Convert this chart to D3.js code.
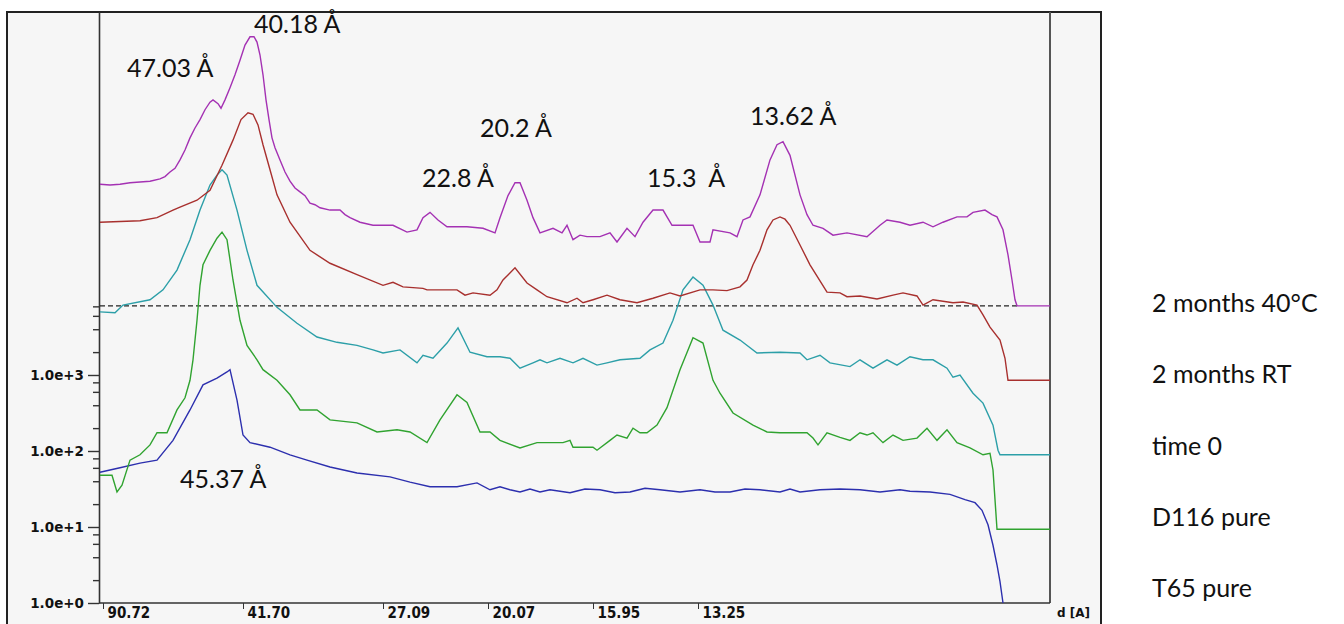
<!DOCTYPE html>
<html>
<head>
<meta charset="utf-8">
<script src="https://cdn.jsdelivr.net/npm/d3@7"></script>
<style>
body { margin: 0; background: #fff; }
svg { display: block; }
</style>
</head>
<body>
<div id="chart"></div>
<script>
// x = scan channel (0 = left edge of the plot), y = log10 of the (offset) intensity
var seriesNames = ["2 months 40°C", "2 months RT", "time 0", "D116 pure", "T65 pure"];
var seriesColors = ["#a431b3", "#a8302e", "#2c9fa8", "#30a330", "#2c2fae"];

var months40 = [[0,5.51],[10,5.50],[20,5.51],[30,5.53],[40,5.54],[50,5.55],[60,5.58],[65,5.61],[70,5.67],[75,5.72],[80,5.83],[85,5.96],[90,6.12],[95,6.25],[100,6.36],[105,6.49],[110,6.59],[113,6.62],[118,6.57],[121,6.51],[125,6.62],[130,6.78],[135,6.95],[140,7.14],[145,7.34],[150,7.45],[154,7.45],[157,7.38],[160,7.21],[163,6.95],[166,6.62],[169,6.36],[172,6.12],[175,5.99],[180,5.83],[185,5.67],[190,5.55],[195,5.46],[200,5.41],[205,5.36],[210,5.26],[215,5.24],[220,5.20],[230,5.17],[240,5.17],[245,5.11],[250,5.07],[260,5.01],[273,4.97],[293,4.97],[307,4.88],[317,4.91],[323,5.07],[330,5.14],[338,5.04],[347,4.95],[367,4.95],[383,4.93],[395,4.87],[400,5.07],[408,5.36],[415,5.53],[420,5.53],[427,5.30],[433,5.07],[440,4.87],[453,4.93],[462,4.87],[467,4.97],[473,4.78],[480,4.84],[487,4.82],[500,4.82],[510,4.87],[517,4.75],[527,4.93],[535,4.82],[543,5.01],[553,5.17],[563,5.17],[572,4.97],[593,4.97],[600,4.75],[610,4.75],[613,4.91],[630,4.87],[637,4.82],[643,5.04],[650,5.08],[660,5.37],[670,5.83],[677,6.03],[683,6.07],[690,5.89],[700,5.37],[707,5.11],[713,4.97],[723,4.93],[733,4.84],[747,4.87],[767,4.82],[780,4.97],[787,5.04],[800,5.01],[810,4.97],[823,5.01],[833,4.95],[843,5.01],[857,5.08],[867,5.08],[873,5.14],[885,5.17],[892,5.11],[897,5.08],[903,4.91],[908,4.58],[912,4.25],[915,3.99],[917,3.91],[950,3.91]];

var monthsRT = [[0,5.01],[40,5.03],[57,5.07],[73,5.17],[80,5.21],[97,5.30],[110,5.43],[122,5.76],[133,6.09],[141,6.36],[148,6.45],[153,6.43],[158,6.29],[163,6.03],[170,5.70],[177,5.37],[190,5.01],[210,4.64],[230,4.47],[257,4.32],[283,4.18],[293,4.22],[303,4.16],[323,4.14],[327,4.12],[357,4.12],[365,4.05],[373,4.08],[390,4.05],[397,4.12],[403,4.25],[415,4.41],[427,4.21],[437,4.12],[447,4.03],[467,3.95],[477,4.01],[483,3.95],[493,3.99],[507,4.05],[520,3.99],[537,3.95],[553,4.01],[570,4.08],[580,4.04],[600,4.12],[613,4.12],[627,4.11],[640,4.16],[647,4.25],[653,4.45],[660,4.64],[667,4.91],[673,5.04],[680,5.08],[685,5.05],[690,4.97],[700,4.71],[710,4.45],[727,4.09],[740,4.08],[747,4.03],[760,4.04],[777,4.00],[793,4.05],[803,4.08],[817,4.04],[823,3.92],[833,3.99],[853,3.95],[863,3.96],[877,3.92],[883,3.79],[890,3.63],[900,3.46],[905,3.22],[908,2.93],[950,2.93]];

var time0 = [[0,3.83],[15,3.82],[23,3.92],[50,3.99],[63,4.12],[77,4.38],[90,4.78],[100,5.17],[110,5.50],[117,5.63],[122,5.70],[127,5.63],[137,5.17],[147,4.64],[157,4.18],[177,3.89],[197,3.68],[217,3.50],[237,3.43],[257,3.39],[273,3.33],[283,3.29],[300,3.33],[317,3.16],[323,3.26],[333,3.22],[347,3.42],[358,3.62],[370,3.30],[387,3.24],[400,3.24],[410,3.22],[420,3.09],[433,3.16],[440,3.20],[447,3.16],[460,3.22],[473,3.16],[483,3.22],[497,3.13],[507,3.16],[520,3.20],[540,3.22],[550,3.33],[563,3.42],[573,3.72],[583,4.12],[593,4.29],[603,4.18],[613,3.92],[623,3.59],[640,3.46],[657,3.29],[680,3.30],[700,3.29],[707,3.20],[720,3.26],[730,3.16],[750,3.11],[760,3.20],[773,3.09],[787,3.20],[797,3.13],[810,3.24],[823,3.20],[833,3.20],[847,3.09],[853,2.97],[860,3.00],[873,2.76],[883,2.63],[893,2.34],[898,2.01],[900,1.95],[950,1.95]];

var d116 = [[0,1.68],[12,1.68],[17,1.46],[22,1.55],[30,1.88],[40,1.95],[50,2.08],[57,2.24],[67,2.24],[77,2.54],[85,2.70],[90,2.93],[93,3.20],[97,3.72],[100,4.18],[103,4.45],[110,4.64],[117,4.80],[122,4.88],[127,4.78],[133,4.25],[140,3.72],[147,3.39],[157,3.20],[163,3.07],[177,2.93],[190,2.74],[200,2.54],[217,2.54],[230,2.41],[257,2.37],[277,2.25],[297,2.28],[310,2.25],[327,2.11],[340,2.41],[357,2.74],[367,2.64],[380,2.25],[390,2.25],[400,2.14],[420,2.04],[437,2.11],[463,2.11],[470,2.14],[473,2.05],[493,2.05],[497,2.01],[510,2.14],[517,2.21],[527,2.17],[533,2.30],[540,2.24],[547,2.24],[557,2.34],[567,2.57],[580,3.07],[593,3.49],[603,3.42],[613,2.93],[620,2.76],[633,2.50],[653,2.34],[667,2.25],[680,2.24],[697,2.24],[707,2.24],[713,2.17],[718,2.08],[727,2.24],[740,2.18],[750,2.14],[760,2.24],[767,2.21],[773,2.24],[783,2.11],[793,2.21],[803,2.14],[817,2.17],[827,2.30],[837,2.14],[847,2.28],[857,2.11],[870,2.04],[883,1.95],[890,1.97],[893,1.75],[895,1.36],[897,0.97],[950,0.97]];

var t65 = [[0,1.72],[20,1.78],[40,1.84],[57,1.88],[73,2.14],[90,2.54],[103,2.87],[117,2.96],[127,3.04],[130,3.07],[137,2.67],[143,2.21],[150,2.11],[170,2.05],[190,1.95],[207,1.88],[230,1.79],[257,1.71],[290,1.66],[310,1.59],[330,1.53],[357,1.53],[377,1.58],[390,1.49],[400,1.53],[410,1.49],[420,1.46],[430,1.50],[440,1.46],[450,1.49],[470,1.45],[485,1.50],[500,1.49],[515,1.45],[530,1.46],[545,1.51],[560,1.49],[580,1.46],[600,1.49],[615,1.46],[630,1.46],[645,1.50],[660,1.49],[680,1.46],[690,1.50],[700,1.46],[720,1.49],[740,1.50],[760,1.49],[780,1.46],[800,1.49],[810,1.47],[830,1.46],[850,1.43],[865,1.36],[875,1.32],[882,1.22],[888,1.03],[893,0.76],[897,0.50],[900,0.28],[903,0]];

var allSeries = [months40, monthsRT, time0, d116, t65];

// x axis: channel of each tick and its d-spacing label
var xTickPos = [3, 143, 283, 388, 493, 598];
var xTickLabels = ["90.72", "41.70", "27.09", "20.07", "15.95", "13.25"];
var yMajor = [0, 1, 2, 3];

// dashed reference level (log10) and the channel where it stops
var refLevel = 3.91, refEnd = 917;

// peak labels: text, channel, log10 level of the baseline
var peakLabels = [
    {t: "40.18 Å", x: 154, v: 7.50},
    {t: "47.03 Å", x: 27, v: 6.92},
    {t: "20.2 Å", x: 380, v: 6.13},
    {t: "22.8 Å", x: 322, v: 5.47},
    {t: "15.3  Å", x: 547, v: 5.47},
    {t: "13.62 Å", x: 650, v: 6.29},
    {t: "45.37 Å", x: 80, v: 1.51}
];

var svg = d3.select("#chart").append("svg")
    .attr("width", 1344)
    .attr("height", 624);

var x = d3.scaleLinear().domain([0, 950]).range([100, 1050]);
var y = d3.scaleLinear().domain([0, 7.776]).range([603, 12]);

// grey panel with frame
svg.append("rect")
    .attr("x", 7).attr("y", 12)
    .attr("width", 1094).attr("height", 640)
    .attr("fill", "#f6f6f6")
    .attr("stroke", "#222")
    .attr("stroke-width", 2);

svg.append("line")
    .attr("x1", 1050).attr("x2", 1050)
    .attr("y1", 12).attr("y2", 603)
    .attr("stroke", "#555").attr("stroke-width", 2);

// y axis, major then minor ticks
var yAxis = d3.axisLeft(y)
    .tickValues(yMajor)
    .tickSize(11)
    .tickSizeOuter(0)
    .tickFormat(function(d) { return "1.0e+" + d; });

var gy = svg.append("g")
    .attr("transform", "translate(99,0)")
    .call(yAxis);
gy.select(".domain").attr("stroke", "#333").attr("stroke-width", 1.6);
gy.selectAll(".tick line").attr("stroke", "#333").attr("stroke-width", 1.4);
gy.selectAll("text")
    .attr("font-family", "DejaVu Sans")
    .attr("font-weight", "bold")
    .attr("font-size", 13.5)
    .attr("fill", "#111")
    .attr("dx", -1);

var minorVals = [];
yMajor.forEach(function(m) {
    [2, 4, 6, 8].forEach(function(k) { minorVals.push(m + Math.log10(k)); });
});
svg.append("g")
    .attr("transform", "translate(99,0)")
    .call(d3.axisLeft(y).tickValues(minorVals).tickSize(6).tickFormat(""))
    .call(function(g) { g.select(".domain").remove(); })
    .selectAll(".tick line").attr("stroke", "#333").attr("stroke-width", 1.4);

// x axis
var xAxis = d3.axisBottom(x)
    .tickValues(xTickPos)
    .tickSize(6)
    .tickSizeOuter(0)
    .tickFormat(function(d, i) { return xTickLabels[i]; });

var gx = svg.append("g")
    .attr("transform", "translate(0,603)")
    .call(xAxis);
gx.select(".domain").attr("d", "M99,0H1050").attr("stroke", "#333").attr("stroke-width", 1.6);
gx.selectAll(".tick line").attr("stroke", "#333");
gx.selectAll("text")
    .attr("font-family", "DejaVu Sans Condensed")
    .attr("font-weight", "bold")
    .attr("font-size", 15)
    .attr("fill", "#111")
    .attr("text-anchor", "start")
    .attr("x", 4)
    .attr("y", 4);

svg.append("text")
    .attr("x", 1057).attr("y", 617)
    .attr("font-family", "DejaVu Sans")
    .attr("font-weight", "bold")
    .attr("font-size", 12)
    .attr("fill", "#111")
    .text("d [A]");

// dashed reference line
svg.append("line")
    .attr("x1", x(0)).attr("x2", x(refEnd))
    .attr("y1", y(refLevel)).attr("y2", y(refLevel))
    .attr("stroke", "#222")
    .attr("stroke-width", 1.4)
    .attr("stroke-dasharray", "5,3");

// curves, bottom one first
var line = d3.line()
    .x(function(d) { return x(d[0]); })
    .y(function(d) { return y(d[1]); });

for (var i = allSeries.length - 1; i >= 0; i--) {
    svg.append("path")
        .datum(allSeries[i])
        .attr("d", line)
        .attr("fill", "none")
        .attr("stroke", seriesColors[i])
        .attr("stroke-width", 1.4);
}

// peak annotations
svg.selectAll(".peak")
    .data(peakLabels)
    .enter().append("text")
    .attr("class", "peak")
    .attr("x", function(d) { return x(d.x); })
    .attr("y", function(d) { return y(d.v); })
    .attr("font-family", "Lato")
    .attr("font-size", 25)
    .attr("fill", "#111")
    .style("white-space", "pre")
    .text(function(d) { return d.t; });

// series names on the right
svg.selectAll(".name")
    .data(seriesNames)
    .enter().append("text")
    .attr("class", "name")
    .attr("x", 1152)
    .attr("y", function(d, i) { return 312 + i * 71.25; })
    .attr("font-family", "Lato")
    .attr("font-size", 25)
    .attr("fill", "#111")
    .text(function(d) { return d; });
</script>
</body>
</html>
